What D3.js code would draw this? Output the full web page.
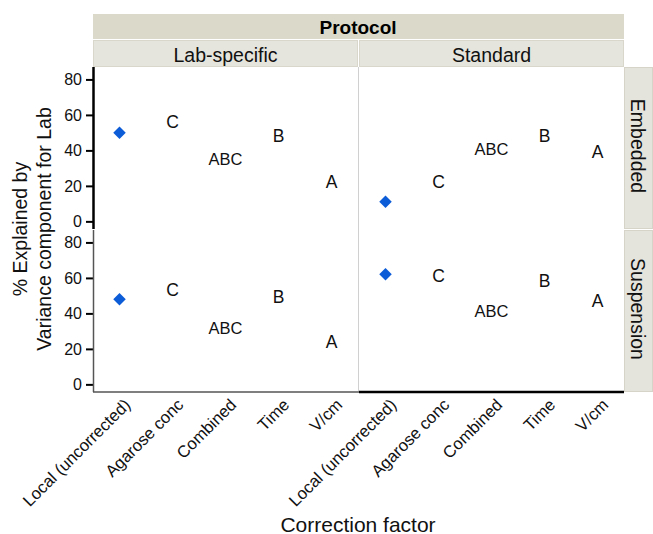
<!DOCTYPE html>
<html><head><meta charset="utf-8">
<script src="https://cdn.jsdelivr.net/npm/d3@7"></script>
<style>body{margin:0;background:#fff}svg{display:block;font-family:"Liberation Sans",Arial,Helvetica,sans-serif}</style>
</head><body>
<svg id="c" width="653" height="534"></svg>
<script>
const categories = ["Local (uncorrected)", "Agarose conc", "Combined", "Time", "V/cm"];
const protocols = ["Lab-specific", "Standard"];
const preparations = ["Embedded", "Suspension"];
const groupLetters = [null, "C", "ABC", "B", "A"];
const embeddedLab = [50, 56, 35, 48, 22];
const embeddedStd = [11, 22, 41, 48, 39];
const suspensionLab = [48, 53, 31.5, 49.5, 24];
const suspensionStd = [62, 61, 41.5, 58, 47];
const yTicks = [0, 20, 40, 60, 80];

const values = {
  "Embedded|Lab-specific": embeddedLab,
  "Embedded|Standard": embeddedStd,
  "Suspension|Lab-specific": suspensionLab,
  "Suspension|Standard": suspensionStd
};

const FONT = "Liberation Sans, Arial, Helvetica, sans-serif";
const svg = d3.select("#c");
const panelX = [[93, 358], [359, 624]];
const rowY = [[67, 229], [230, 392]];
const yDomain = [-4.3, 87];

// headers
svg.append("rect").attr("x", 93).attr("y", 14).attr("width", 531).attr("height", 25).attr("fill", "#dbd9ca");
svg.append("text").attr("x", 358).attr("y", 27).attr("text-anchor", "middle").attr("dominant-baseline", "central")
  .attr("font-size", 19).attr("font-weight", "bold").attr("fill", "#000").text("Protocol");
protocols.forEach((p, i) => {
  const [x0, x1] = panelX[i];
  svg.append("rect").attr("x", x0 + 0.5).attr("y", 40.5).attr("width", x1 - x0 - 1).attr("height", 26)
    .attr("fill", "#e6e5dd").attr("stroke", "#d9d7cb").attr("stroke-width", 1);
  svg.append("text").attr("x", (x0 + x1) / 2).attr("y", 54.5).attr("text-anchor", "middle").attr("dominant-baseline", "central")
    .attr("font-size", 19.5).attr("fill", "#111").text(p);
});
preparations.forEach((p, j) => {
  const [y0, y1] = rowY[j];
  svg.append("rect").attr("x", 624.5).attr("y", y0 + 0.5).attr("width", 28).attr("height", y1 - y0 - 1)
    .attr("fill", "#e5e4dc").attr("stroke", "#d6d4c8").attr("stroke-width", 1);
  const cy = (y0 + y1) / 2;
  svg.append("text").attr("transform", `translate(638,${cy - 2}) rotate(90)`).attr("text-anchor", "middle")
    .attr("dominant-baseline", "central").attr("font-size", 19.5).attr("fill", "#111").text(p);
});

// panel divider
svg.append("line").attr("x1", 358.5).attr("x2", 358.5).attr("y1", 67).attr("y2", 391).attr("stroke", "#d0d0d0").attr("stroke-width", 1);

// y axes and marks
preparations.forEach((p, j) => {
  const [y0, y1] = rowY[j];
  const y = d3.scaleLinear().domain(yDomain).range([y1, y0]);
  const g = svg.append("g").attr("transform", "translate(93,0)");
  const ax = d3.axisLeft(y).tickValues(yTicks).tickSize(7).tickPadding(4).tickFormat(d3.format("d"));
  g.call(ax);
  g.select(".domain").remove();
  g.selectAll(".tick line").attr("stroke", "#000").attr("stroke-width", 2);
  g.selectAll(".tick text").attr("font-size", 16).attr("fill", "#111").attr("font-family", FONT);
  g.append("line").attr("x1", 0.5).attr("x2", 0.5).attr("y1", y0).attr("y2", y1)
    .attr("stroke", j === 0 ? "#000" : "#555").attr("stroke-width", j === 0 ? 2.5 : 1.5);

  protocols.forEach((pr, i) => {
    const x = d3.scaleBand().domain(categories).range(panelX[i]);
    const vals = values[p + "|" + pr];
    const pg = svg.append("g");
    categories.forEach((c, k) => {
      const cx = x(c) + x.bandwidth() / 2;
      const cyv = y(vals[k]);
      if (groupLetters[k] === null) {
        pg.append("path").attr("d", d3.symbol(d3.symbolSquare, 78)())
          .attr("transform", `translate(${cx},${cyv}) rotate(45)`).attr("fill", "#0c5cd8");
      } else {
        pg.append("text").attr("x", cx).attr("y", cyv).attr("text-anchor", "middle").attr("dominant-baseline", "central")
          .attr("font-size", groupLetters[k].length > 1 ? 16.5 : 17.5).attr("fill", "#111").text(groupLetters[k]);
      }
    });
  });
});

// x axes
protocols.forEach((pr, i) => {
  const x = d3.scaleBand().domain(categories).range(panelX[i]);
  const g = svg.append("g").attr("transform", "translate(0,392)");
  g.call(d3.axisBottom(x).tickSize(0).tickPadding(0));
  g.select(".domain").remove();
  g.append("line").attr("x1", panelX[i][0]).attr("x2", panelX[i][1] + (i === 0 ? 1 : 0)).attr("y1", 0).attr("y2", 0)
    .attr("stroke", i === 0 ? "#555" : "#000").attr("stroke-width", i === 0 ? 1.5 : 2.5);
  g.selectAll(".tick text")
    .attr("font-size", 16.7).attr("fill", "#111").attr("font-family", FONT)
    .attr("text-anchor", "end").attr("dy", null).attr("dominant-baseline", "central")
    .attr("transform", "translate(8,10) rotate(-45)").attr("y", 0).attr("x", 0);
});

// axis titles
svg.append("text").attr("x", 358).attr("y", 524).attr("text-anchor", "middle").attr("dominant-baseline", "central")
  .attr("font-size", 21).attr("fill", "#111").text("Correction factor");
const yt = svg.append("text").attr("transform", "translate(32,229) rotate(-90)").attr("text-anchor", "middle").attr("font-size", 19.5).attr("fill", "#111");
yt.append("tspan").attr("x", 0).attr("y", -5).text("% Explained by");
yt.append("tspan").attr("x", 0).attr("y", 19).text("Variance component for Lab");
</script>
</body></html>
